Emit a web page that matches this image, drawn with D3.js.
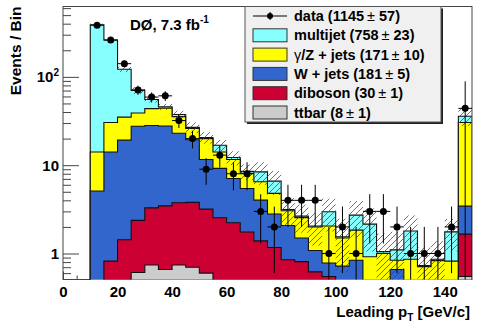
<!DOCTYPE html>
<html>
<head>
<meta charset="utf-8">
<script src="https://cdn.jsdelivr.net/npm/d3@7"></script>
<style>
  body { margin: 0; background: #fff; }
  svg { font-family: "Liberation Sans", Arial, sans-serif; font-weight: bold; }
</style>
</head>
<body>
<svg class="chart" width="491" height="332"></svg>
<script>
"use strict";

// bin edges in leading pT [GeV/c], last bin holds the overflow
let binEdges = [10, 15, 20, 25, 30, 35, 40, 45, 50, 55, 60, 65, 70, 75, 80, 85, 90, 95,
  100, 105, 110, 115, 120, 125, 130, 135, 140, 145, 150];

let ttbar = [0.05, 0.1, 0.3, 0.61, 0.74, 0.66, 0.74, 0.70, 0.60, 0.4, 0.3, 0.25, 0.2, 0.15,
  0.1, 0.1, 0.08, 0.06, 0.05, 0.05, 0.04, 0.04, 0.03, 0.03, 0.02, 0.02, 0.02, 0.55];
let diboson = [0.25, 0.72, 1.13, 1.76, 2.55, 2.8, 3.01, 3.09, 2.58, 2.14, 1.93, 1.5, 1.19, 1.02,
  0.75, 0.71, 0.54, 0.49, 0.4, 0.35, 0.16, 0.16, 0.17, 0.12, 0.08, 0.08, 0.08, 1.11];
let wjets = [4.8, 13.28, 17.77, 25.23, 24.81, 24.34, 19.25, 15.61, 8.42, 6.66, 4.84, 3.7, 2.63, 1.63,
  1.23, 0.69, 0.46, 0.23, 0.27, 0.44, 0.1, 0.1, 0.46, 0.15, 0.2, 0.2, 0.2, 1.78];
let zjets = [9.0, 16.3, 15.8, 11.4, 15.6, 16.5, 12.5, 6.6, 8.4, 4.9, 4.53, 2.65, 2.48, 2.0,
  0.97, 1.05, 0.92, 1.27, 0.78, 1.0, 0.62, 0.7, 0.18, 0.56, 0.41, 0.53, 0.52, 26.96];
let multijet = [375, 230.6, 87, 31.4, 11.8, 1.5, 2.0, 0.8, 0.6, 2.7, 0.6, 0.4, 1.9, 1.8,
  0.1, 0.1, 0.05, 0.92, 0.05, 0.88, 1.23, 0.05, 0.26, 0.94, 0.02, 0.03, 0.94, 5.4];
// total background uncertainty (hatched band)
let bkgErr = [12, 8, 8.5, 6.3, 4.4, 3.7, 3.8, 3.8, 3.1, 2.5, 2.2, 1.7, 2.4, 2.0,
  1.1, 0.93, 0.82, 1.2, 0.93, 1.2, 1.1, 0.63, 0.66, 0.9, 0.44, 0.52, 0.7, 8];

let dataCounts = [384, 261, 141, 71, 59, 61, 32, 20, 9, 13, 8, 8, 3, 2,
  4, 4, 4, 1, 2, 1, 3, 3, 2, 1, 1, 1, 2, 44];
let dataErr = [19.6, 16.2, 11.9, 8.4, 7.7, 7.8, 5.7, 4.5, 3, 3.6, 2.8, 2.8, 1.7, 1.4,
  2, 2, 2, 1, 1.4, 1, 1.7, 1.7, 1.4, 1, 1, 1, 1.4, 45];

let xTicks = [0, 20, 40, 60, 80, 100, 120, 140];
let xMinorTicks = [5, 10, 15, 25, 30, 35, 45, 50, 55, 65, 70, 75, 85, 90, 95, 105, 110, 115, 125, 130, 135, 145];
let yTicks = [1, 10, 100];
let yMinorTicks = [0.6, 0.7, 0.8, 0.9, 2, 3, 4, 5, 6, 7, 8, 9, 20, 30, 40, 50, 60, 70, 80, 90, 200, 300, 400, 500, 600];

let legendNames = ['data', 'multijet', '\u03b3/Z + jets', 'W + jets', 'diboson', 'ttbar'];
let legendYields = [1145, 758, 171, 181, 30, 8];
let legendErrs = [57, 23, 10, 5, 1, 1];

let keys = ['ttbar', 'diboson', 'wjets', 'zjets', 'multijet'];
let colors = {
  ttbar: '#cccccc',
  diboson: '#cc0033',
  wjets: '#3366cc',
  zjets: '#ffff00',
  multijet: '#88ffff'
};

let svg = d3.select('.chart');

let x = d3.scaleLinear().domain([0, 150]).range([63, 472]);
let yMin = 0.508;
let yMax = 626;
let y = d3.scaleLog().domain([yMin, yMax]).range([279.5, 6.5]);

let bins = binEdges.slice(0, -1).map((lo, i) => ({
  lo: lo,
  hi: binEdges[i + 1],
  ttbar: ttbar[i],
  diboson: diboson[i],
  wjets: wjets[i],
  zjets: zjets[i],
  multijet: multijet[i],
  err: bkgErr[i],
  n: dataCounts[i],
  nErr: dataErr[i]
}));

let layers = d3.stack().keys(keys)(bins);

let defs = svg.append('defs');
defs.append('clipPath').attr('id', 'frame')
  .append('rect')
  .attr('x', x(0)).attr('y', y(yMax))
  .attr('width', x(150) - x(0)).attr('height', y(yMin) - y(yMax));

let hatch = defs.append('pattern')
  .attr('id', 'hatch')
  .attr('patternUnits', 'userSpaceOnUse')
  .attr('width', 6).attr('height', 6);
hatch.append('path')
  .attr('d', 'M-1,1 l2,-2 M0,6 l6,-6 M5,7 l2,-2')
  .attr('stroke', '#444')
  .attr('stroke-width', 0.75);

// axes first, the histograms cover them like in the original
let yAxis = svg.append('g').attr('transform', 'translate(' + x(0) + ',0)');
yAxis.call(d3.axisLeft(y).tickValues(yTicks).tickSize(-16).tickFormat(''));
yAxis.append('g').call(d3.axisLeft(y).tickValues(yMinorTicks).tickSize(-8).tickFormat(''));
yAxis.selectAll('.domain').remove();

let xAxis = svg.append('g').attr('transform', 'translate(0,' + y(yMin) + ')');
xAxis.call(d3.axisBottom(x).tickValues(xTicks).tickSize(-8).tickPadding(7).tickFormat(d3.format('d')));
xAxis.append('g').call(d3.axisBottom(x).tickValues(xMinorTicks).tickSize(-4).tickFormat(''));
xAxis.selectAll('.domain').remove();
xAxis.selectAll('text')
  .attr('font-size', 15)
  .attr('font-family', '"Liberation Sans", Arial, sans-serif')
  .attr('font-weight', 'bold')
  .attr('fill', '#000');
svg.selectAll('.tick line').attr('stroke', '#444');

svg.append('rect')
  .attr('x', x(0)).attr('y', y(yMax))
  .attr('width', x(150) - x(0)).attr('height', y(yMin) - y(yMax))
  .attr('fill', 'none')
  .attr('stroke', '#444');

let plot = svg.append('g').attr('clip-path', 'url(#frame)');

let stepArea = d3.area()
  .x(d => x(d[0]))
  .y0(y(yMin) + 2)
  .y1(d => y(Math.max(d[1], yMin / 2)));

let stepPoints = layer => {
  let pts = [];
  layer.forEach(d => {
    pts.push([d.data.lo, d[1]]);
    pts.push([d.data.hi, d[1]]);
  });
  return pts;
};

plot.selectAll('.layer')
  .data(layers.slice().reverse())
  .enter()
  .append('path')
  .attr('class', 'layer')
  .attr('d', l => stepArea(stepPoints(l)))
  .attr('fill', l => colors[l.key])
  .attr('stroke', '#111')
  .attr('stroke-width', 1.1);

let totalLayer = layers[layers.length - 1];
plot.selectAll('.band')
  .data(totalLayer)
  .enter()
  .append('rect')
  .attr('class', 'band')
  .attr('x', d => x(d.data.lo))
  .attr('width', d => x(d.data.hi) - x(d.data.lo))
  .attr('y', d => y(d[1] + d.data.err))
  .attr('height', d => y(Math.max(d[1] - d.data.err, yMin / 2)) - y(d[1] + d.data.err))
  .attr('fill', 'url(#hatch)');

let points = plot.selectAll('.pt')
  .data(bins)
  .enter()
  .append('g')
  .attr('class', 'pt');
points.append('line')
  .attr('x1', d => x(d.lo)).attr('x2', d => x(d.hi))
  .attr('y1', d => y(d.n)).attr('y2', d => y(d.n))
  .attr('stroke', '#000');
points.append('line')
  .attr('x1', d => x((d.lo + d.hi) / 2)).attr('x2', d => x((d.lo + d.hi) / 2))
  .attr('y1', d => y(d.n + d.nErr))
  .attr('y2', d => y(Math.max(d.n - d.nErr, yMin / 2)))
  .attr('stroke', '#000');
points.append('circle')
  .attr('cx', d => x((d.lo + d.hi) / 2))
  .attr('cy', d => y(d.n))
  .attr('r', 3.5)
  .attr('fill', '#000');

// y labels
yTicks.forEach(v => {
  let t = svg.append('text')
    .attr('x', 59)
    .attr('y', y(v) + 5.5)
    .attr('text-anchor', 'end')
    .attr('font-size', 15);
  if (v === 100) {
    t.append('tspan').text('10');
    t.append('tspan').attr('dy', -6).attr('font-size', 10).text('2');
  } else {
    t.text(v);
  }
});

svg.append('text')
  .attr('transform', 'translate(20.5,' + y(yMax) + ') rotate(-90)')
  .attr('text-anchor', 'end')
  .attr('font-size', 15.5)
  .text('Events / Bin');

let xt = svg.append('text')
  .attr('x', 470)
  .attr('y', 317)
  .attr('text-anchor', 'end')
  .attr('font-size', 15);
xt.append('tspan').text('Leading p');
xt.append('tspan').attr('dy', 4).attr('font-size', 10).text('T');
xt.append('tspan').attr('dy', -4).text(' [GeV/c]');

let lumi = svg.append('text')
  .attr('x', 130)
  .attr('y', 30)
  .attr('font-size', 15);
lumi.append('tspan').text('D\u00d8, 7.3 fb');
lumi.append('tspan').attr('dy', -7).attr('font-size', 10).text('-1');

// legend
let leg = svg.append('g');
leg.append('rect')
  .attr('x', 247).attr('y', 8.5)
  .attr('width', 196).attr('height', 115.5)
  .attr('fill', '#222');
leg.append('rect')
  .attr('x', 245).attr('y', 6.5)
  .attr('width', 196).attr('height', 115.5)
  .attr('fill', '#f0f0f0')
  .attr('stroke', '#555');

let rows = leg.selectAll('.entry')
  .data(legendNames)
  .enter()
  .append('g')
  .attr('class', 'entry')
  .attr('transform', (d, i) => 'translate(0,' + (16 + i * 19.3) + ')');

rows.filter((d, i) => i === 0).each(function () {
  let g = d3.select(this);
  g.append('line').attr('x1', 253).attr('x2', 287).attr('stroke', '#000');
  g.append('line').attr('x1', 270).attr('x2', 270).attr('y1', -4).attr('y2', 4).attr('stroke', '#000');
  g.append('circle').attr('cx', 270).attr('r', 3).attr('fill', '#000');
});

let swatchKeys = [null, 'multijet', 'zjets', 'wjets', 'diboson', 'ttbar'];
rows.filter((d, i) => i > 0)
  .append('rect')
  .attr('x', 253).attr('y', -6.5)
  .attr('width', 34).attr('height', 13)
  .attr('fill', (d, i) => colors[swatchKeys[i + 1]])
  .attr('stroke', '#333');

let labels = rows.append('text')
  .attr('x', 294)
  .attr('y', 5)
  .attr('font-size', 14.5);
labels.each(function (d, i) {
  let t = d3.select(this);
  if (d.charAt(0) === '\u03b3') {
    t.append('tspan').attr('font-weight', 'normal').text('\u03b3');
    t.append('tspan').text(d.slice(1) + ' (' + legendYields[i]);
  } else {
    t.append('tspan').text(d + ' (' + legendYields[i]);
  }
  t.append('tspan').attr('font-weight', 'normal').text('\u2009\u00b1');
  t.append('tspan').text(' ' + legendErrs[i] + ')');
});
</script>
</body>
</html>
